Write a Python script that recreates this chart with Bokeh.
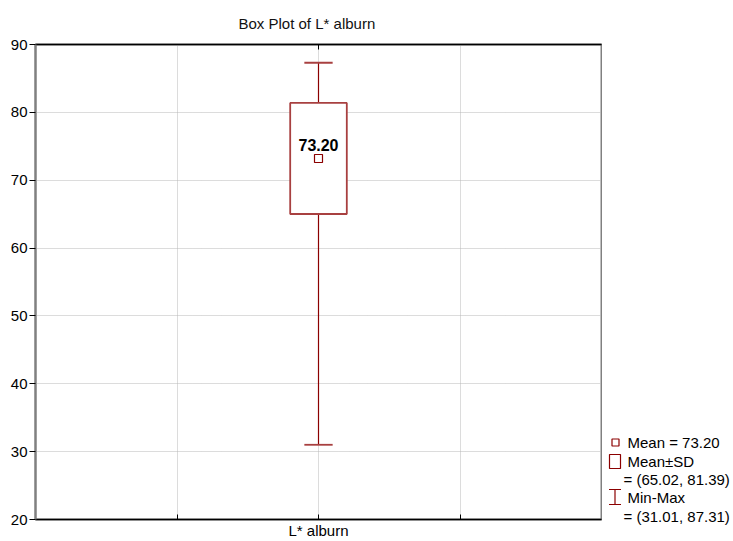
from bokeh.plotting import figure
from bokeh.layouts import row
from bokeh.models import Range1d, FixedTicker, LinearAxis
from bokeh.embed import file_html
from bokeh.resources import INLINE
from bokeh.core.properties import value

# ---- data ----
chart_title = "Box Plot of L* alburn"
category = "L* alburn"
mean_value = 73.20
sd_low = 65.02
sd_high = 81.39
min_value = 31.01
max_value = 87.31
y_ticks = [20, 30, 40, 50, 60, 70, 80, 90]
x_ticks = [1, 2, 3]

FONT = "Liberation Sans"
RED = "#8b0000"
BOX_LINE = "#a84040"
FS = "15px"

cx = 2  # category position

p = figure(width=602, height=541, x_range=Range1d(0, 4), y_range=Range1d(20, 90),
           output_backend="svg", toolbar_location=None,
           min_border_left=35, min_border_right=1, min_border_top=44, min_border_bottom=22,
           title=chart_title)
p.frame_align = False
p.background_fill_color = "white"
p.border_fill_color = "white"
p.outline_line_color = "#808080"
p.outline_line_width = 2

p.title.align = "left"
p.title.offset = 203
p.title.text_font = FONT
p.title.text_font_size = FS
p.title.text_font_style = "normal"
p.title.text_color = "#111111"
p.title.standoff = 25

# axes
xa = p.xaxis[0]
xa.ticker = FixedTicker(ticks=x_ticks)
xa.major_label_overrides = {1: "", 2: category, 3: ""}
xa.major_tick_in = 5
xa.major_tick_out = 0
xa.minor_tick_line_color = None
xa.axis_line_color = "black"
xa.axis_line_width = 1.5
xa.major_tick_line_color = "black"
xa.major_label_text_font = FONT
xa.major_label_text_font_size = FS
xa.major_label_text_color = "black"
xa.major_label_standoff = 2

ya = p.yaxis[0]
ya.ticker = FixedTicker(ticks=y_ticks)
ya.major_tick_in = 0
ya.major_tick_out = 6
ya.minor_tick_line_color = None
ya.axis_line_color = "#808080"
ya.axis_line_width = 2
ya.major_tick_line_color = "black"
ya.major_label_text_font = FONT
ya.major_label_text_font_size = FS
ya.major_label_text_color = "black"
ya.major_label_standoff = 2

top = LinearAxis(ticker=FixedTicker(ticks=[cx]), major_label_overrides={cx: ""},
                 major_tick_in=5, major_tick_out=0, major_label_standoff=0,
                 axis_line_color="black", axis_line_width=1.5,
                 major_tick_line_color="black", minor_tick_line_color=None)
p.add_layout(top, "above")

p.xgrid.ticker = FixedTicker(ticks=x_ticks)
p.ygrid.ticker = FixedTicker(ticks=y_ticks)
for g in (p.xgrid[0], p.ygrid[0]):
    g.grid_line_color = "#b8b8b8"
    g.grid_line_dash = "1 1"
    g.grid_line_width = 1

# whiskers
p.segment(x0=[cx, cx], y0=[min_value, sd_high], x1=[cx, cx], y1=[sd_low, max_value],
          line_color=RED, line_width=1.2)
p.segment(x0=[cx - 0.1, cx - 0.1], y0=[min_value, max_value],
          x1=[cx + 0.1, cx + 0.1], y1=[min_value, max_value],
          line_color=BOX_LINE, line_width=1.8)
# box
p.quad(left=[cx - 0.2], right=[cx + 0.2], bottom=[sd_low], top=[sd_high],
       fill_color="white", line_color=BOX_LINE, line_width=1.8)
# mean
p.scatter(x=[cx], y=[mean_value], marker="square", size=8,
          fill_color="white", line_color=RED, line_width=1.2)
p.text(x=[cx], y=[mean_value], text=[f"{mean_value:.2f}"], text_align="center",
       text_baseline="middle", y_offset=-14, text_font=value(FONT),
       text_font_size="16px", text_font_style="bold", text_color="black")

# ---- legend panel ----
lg = figure(width=131, height=541, x_range=Range1d(602, 733), y_range=Range1d(541, 0),
            output_backend="svg", toolbar_location=None, min_border=0,
            x_axis_location=None, y_axis_location=None)
lg.frame_align = False
lg.grid.visible = False
lg.outline_line_color = None
lg.background_fill_color = "white"
lg.border_fill_color = "white"

lg.scatter(x=[615], y=[442], marker="square", size=7, fill_color="white",
           line_color=RED, line_width=1.2)
lg.quad(left=[609], right=[620], top=[454], bottom=[468], fill_color="white",
        line_color=RED, line_width=1.2)
lg.segment(x0=[614.5, 608.5, 608.5], y0=[489, 489, 504], x1=[614.5, 620.5, 620.5],
           y1=[504, 489, 504], line_color=RED, line_width=1.2)

leg_text = [f"Mean = {mean_value:.2f}", "Mean\u00b1SD", f"= ({sd_low:.2f}, {sd_high:.2f})",
            "Min-Max", f"= ({min_value:.2f}, {max_value:.2f})"]
leg_x = [627, 627, 623, 627, 623]
leg_y = [442, 461, 479, 497, 516]
lg.text(x=leg_x, y=leg_y, text=leg_text, text_align="left", text_baseline="middle",
        text_font=value(FONT), text_font_size=FS, text_color="black")

layout = row(p, lg, spacing=0)
open("out.html", "w").write(file_html(layout, INLINE))
